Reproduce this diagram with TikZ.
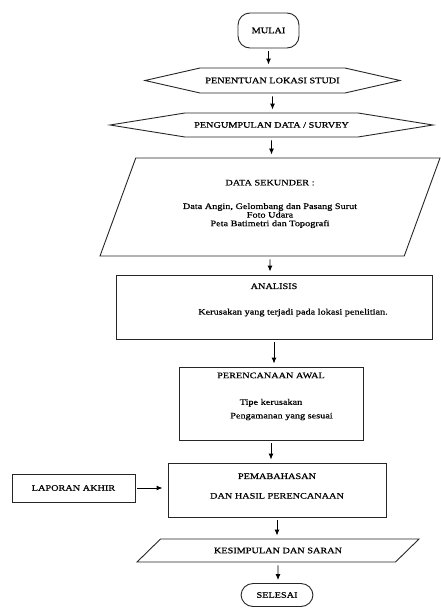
\documentclass[tikz,border=0pt]{standalone}
\usepackage{fontspec}
\setmainfont{Liberation Serif}[FakeStretch=1.22,FakeBold=0.6]
\usetikzlibrary{arrows.meta,shapes.geometric,shapes.symbols}

\begin{document}
\begin{tikzpicture}[x=1pt,y=-1pt,font=\fontsize{8.4}{8.6}\selectfont,
  box/.style={draw=black!85,line width=0.9pt,align=center,inner sep=2pt},
  term/.style={box,rounded corners=12pt},
  hexa/.style={box,signal,signal to=west and east},
  para/.style={box,trapezium,trapezium stretches body},
  arr/.style={-{Latex[length=6pt,width=5pt]},line width=0.9pt,shorten <=3pt,shorten >=3pt}]
  \useasboundingbox (0,0) rectangle (441,608);
  % start
  \node[term,minimum width=61,minimum height=35] (mulai) at (268.5,30.5) {MULAI};
  \node[hexa,minimum width=255,minimum height=25,signal pointer angle=25.6] (pen) at (272.5,80.5) {PENENTUAN LOKASI STUDI};
  \node[hexa,minimum width=323,minimum height=24,signal pointer angle=18.2] (peng) at (271.5,125) {PENGUMPULAN DATA / SURVEY};
  % data
  \node[para,minimum width=340,minimum height=98,trapezium left angle=58.5,trapezium right angle=121.5] (data) at (270,207)
    {DATA SEKUNDER :\\[15pt]Data Angin, Gelombang dan Pasang Surut\\Foto Udara\\Peta Batimetri dan Topografi\rule[-8pt]{0pt}{8pt}};
  % analisis & perencanaan
  \node[box,minimum width=316,minimum height=64] (ana) at (274,307)
    {ANALISIS\\[17pt]\hspace*{38pt}Kerusakan yang terjadi pada lokasi penelitian.\rule[-16pt]{0pt}{16pt}};
  \node[box,minimum width=184,minimum height=73] (per) at (271,403.5)
    {PERENCANAAN AWAL\\[18pt]Tipe kerusakan\\[5pt]\hspace*{21pt}Pengamanan yang sesuai\rule[-16pt]{0pt}{16pt}};
  \node[box,minimum width=218,minimum height=54] (pem) at (277,490)
    {PEMABAHASAN\\[11pt]DAN HASIL PERENCANAAN\rule[-8pt]{0pt}{8pt}};
  \node[box,minimum width=123,minimum height=28] (lap) at (73.5,488) {LAPORAN AKHIR};
  % end
  \node[para,minimum width=282,minimum height=23,trapezium left angle=22.3,trapezium right angle=157.7] (kes) at (278,550.5) {KESIMPULAN DAN SARAN};
  \node[term,minimum width=72,minimum height=23] (sel) at (277,595) {SELESAI};

  \draw[arr] (mulai) -- (mulai |- pen.north);
  \draw[arr] (pen) -- (pen |- peng.north);
  \draw[arr] (peng) -- (peng |- data.north);
  \draw[arr] (data) -- (data |- ana.north);
  \draw[arr] (ana) -- (ana |- per.north);
  \draw[arr] (per) -- (per |- pem.north);
  \draw[arr,shorten <=2pt,shorten >=5pt] (lap) -- (lap -| pem.west);
  \draw[arr] (pem) -- (pem |- kes.north);
  \draw[arr] (kes) -- (kes |- sel.north);
\end{tikzpicture}
\end{document}
